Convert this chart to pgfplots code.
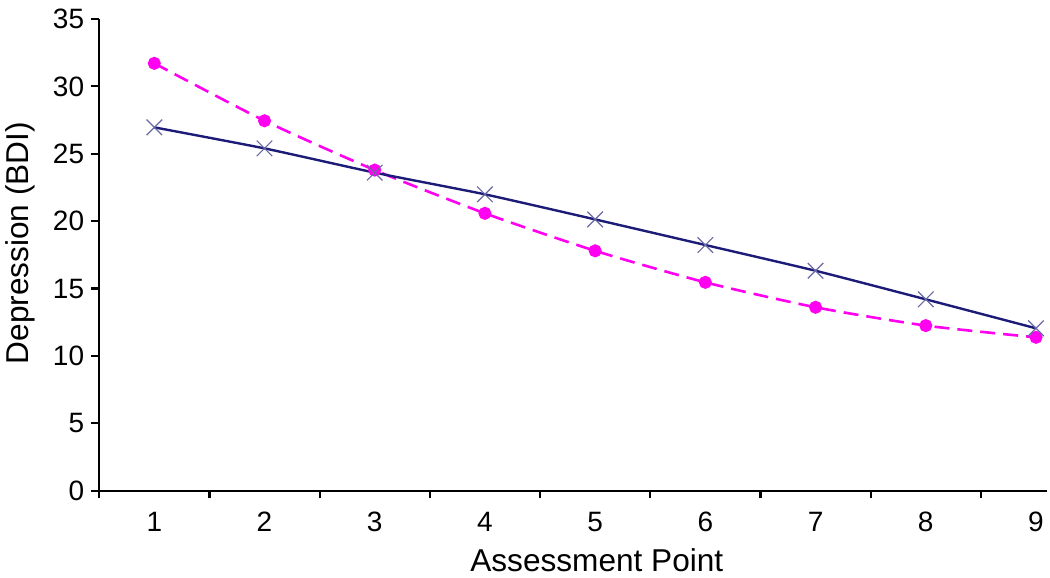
\documentclass[border=0pt]{standalone}
\usepackage{fontspec}
\setmainfont{Liberation Sans}
\usepackage{pgfplots}
\pgfplotsset{compat=1.18}
\definecolor{pinkline}{RGB}{255,0,240}
\definecolor{navyline}{RGB}{28,28,120}
\definecolor{xmark}{RGB}{105,105,165}
\begin{document}
\begin{tikzpicture}
\begin{axis}[
  scale only axis=true,
  width=473.9pt, height=235.85pt,
  xmin=0.5, xmax=9.1,
  ymin=0, ymax=35,
  axis lines=left,
  axis line style={-, line width=1.1pt, black},
  xtick={1,...,9},
  minor xtick={0.5,1.5,...,8.5},
  major x tick style={draw=none},
  minor x tick style={line width=1.1pt, black},
  minor tick length=3.8pt,
  ytick={0,5,...,35},
  y tick style={line width=1.1pt, black},
  major tick length=4pt,
  tick align=outside,
  tick pos=left,
  /pgf/number format/assume math mode=true,
  tick label style={font=\fontsize{14}{16}\selectfont},
  xticklabel style={yshift=-3pt},
  label style={font=\fontsize{15.8}{18}\selectfont},
  xlabel={Assessment Point},
  ylabel={Depression (BDI)},
  xlabel style={at={(axis description cs:0.525,-0.148)}, anchor=center},
  ylabel style={at={(axis description cs:-0.0836,0.525)}, anchor=center},
  clip=false,
]
\addplot[color=pinkline, line width=1.3pt, dash pattern=on 7.5pt off 4pt, smooth, tension=0.4,
  mark=*, mark size=2.6pt, mark options={solid, fill=pinkline, draw=pinkline}]
coordinates {(1,31.71) (2,27.45) (3,23.79) (4,20.58) (5,17.80) (6,15.46) (7,13.61) (8,12.25) (9,11.38)};
\addplot[color=navyline, line width=1.2pt, smooth, tension=0.3,
  mark=x, mark size=5.5pt, mark options={solid, draw=xmark, line width=0.6pt}]
coordinates {(1,26.96) (2,25.40) (3,23.60) (4,21.99) (5,20.13) (6,18.23) (7,16.32) (8,14.20) (9,12.05)};
\end{axis}
\pgfresetboundingbox
\path ([xshift=-49.6pt,yshift=-43.15pt]current axis.south west) rectangle ([xshift=1.5pt,yshift=9.5pt]current axis.north east);
\end{tikzpicture}
\end{document}
